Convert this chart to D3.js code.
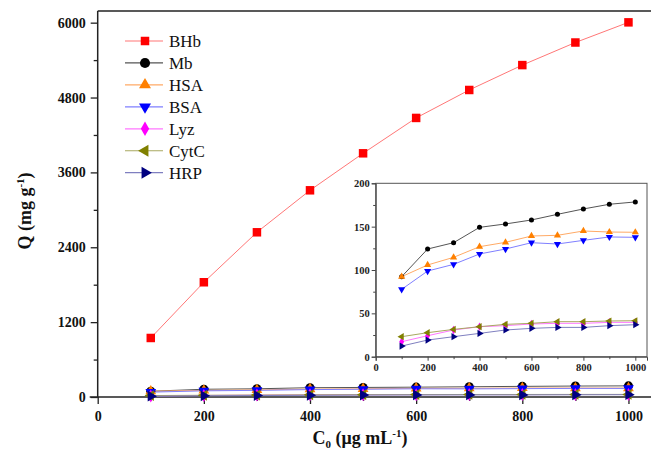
<!DOCTYPE html>
<html><head><meta charset="utf-8">
<script src="https://cdn.jsdelivr.net/npm/d3@7"></script>
<style>body{margin:0;background:#fff}svg{display:block}
svg text{font-family:"Liberation Serif","Times New Roman","DejaVu Serif",serif;}
</style>
</head><body>
<svg id="c" width="651" height="450"></svg>
<script>
const conc = [100,200,300,400,500,600,700,800,900,1000];
const BHb  = [946,1839,2640,3313,3906,4473,4921,5320,5682,6005];
const Mb   = [92.3,124.2,131.5,149.2,153.1,157.7,164.2,170.4,175.8,178.5];
const HSA  = [92.3,105.8,114.6,126.9,131.9,139.2,140.0,145.0,143.8,143.5];
const BSA  = [77.7,98.8,106.5,118.5,124.2,131.5,130.0,134.2,138.1,137.7];
const Lyz  = [17.3,24.2,30.8,34.6,35.8,37.7,38.5,38.5,39.6,39.6];
const CytC = [23.1,27.7,31.5,34.6,37.3,38.5,40.4,40.4,41.2,41.5];
const HRP  = [12.3,19.2,23.1,26.9,30.8,32.7,33.8,33.8,35.8,36.9];
const mainYTicks = [0,1200,2400,3600,4800,6000];
const mainXTicks = [0,200,400,600,800,1000];
const insetYTicks = [0,50,100,150,200];
const insetXTicks = [0,200,400,600,800,1000];

const series = [
  {name:"BHb", vals:BHb, color:"#ff0000", line:"#ff7777", sym:"square"},
  {name:"Mb", vals:Mb, color:"#000000", line:"#555555", sym:"circle"},
  {name:"HSA", vals:HSA, color:"#ff8000", line:"#ffaa66", sym:"up"},
  {name:"BSA", vals:BSA, color:"#0000ff", line:"#7f7fff", sym:"down"},
  {name:"Lyz", vals:Lyz, color:"#ff00ff", line:"#ff77ff", sym:"diamond"},
  {name:"CytC", vals:CytC, color:"#808000", line:"#a8a860", sym:"left"},
  {name:"HRP", vals:HRP, color:"#000080", line:"#7f7fc0", sym:"right"}
];

const svg = d3.select("#c");
const FONT = "'Liberation Serif','Times New Roman','DejaVu Serif',serif";

function symPath(kind, s){
  const m = {square:[d3.symbolSquare,s*s],circle:[d3.symbolCircle,s*s*0.8],
    up:[d3.symbolTriangle,s*s*0.62],down:[d3.symbolTriangle,s*s*0.62],
    left:[d3.symbolTriangle,s*s*0.62],right:[d3.symbolTriangle,s*s*0.62],
    diamond:[d3.symbolDiamond,s*s*0.6]}[kind];
  return d3.symbol().type(m[0]).size(m[1])();
}
const rot = {square:0,circle:0,up:0,down:180,left:-90,right:90,diamond:0};

// ---------- main plot ----------
const x = d3.scaleLinear().domain([0,1050]).range([97.7,655]);
const y = d3.scaleLinear().domain([0,6187]).range([397,11]);

svg.append("line").attr("x1",x(0)).attr("x2",651).attr("y1",y(6187)).attr("y2",y(6187))
  .attr("stroke","#222").attr("stroke-width",1.5);

const yAx = d3.axisLeft(y).tickValues(d3.range(0,6001,600)).tickSize(7)
  .tickFormat(d=> mainYTicks.includes(d)? d : "");
const gy = svg.append("g").attr("transform",`translate(${x(0)},0)`).call(yAx);
gy.attr("font-family",null).attr("font-size",null);
gy.select(".domain").attr("d",`M0,${y(6187)}V${y(0)+0.5}`).attr("stroke","#222").attr("stroke-width",1.5);
gy.selectAll(".tick line").attr("stroke","#222").attr("stroke-width",1.3)
  .attr("x2",d=> mainYTicks.includes(d)? -7 : -4);
gy.selectAll(".tick text").attr("x",-12).style("font-family",FONT).style("font-weight","bold")
  .style("font-size","14px").attr("fill","#111");

const xAx = d3.axisBottom(x).tickValues(d3.range(0,1001,100)).tickSize(7)
  .tickFormat(d=> mainXTicks.includes(d)? d : "");
const gx = svg.append("g").attr("transform",`translate(0,${y(0)})`).call(xAx);
gx.attr("font-family",null).attr("font-size",null);
gx.select(".domain").attr("d",`M${x(0)-8},0H651`).attr("stroke","#222").attr("stroke-width",1.5);
gx.selectAll(".tick line").attr("stroke","#222").attr("stroke-width",1.3)
  .attr("y2",d=> mainXTicks.includes(d)? 7 : 4);
gx.selectAll(".tick text").attr("y",14).style("font-family",FONT).style("font-weight","bold")
  .style("font-size","14px").attr("fill","#111");

const lineMain = d3.line().x((d,i)=>x(conc[i])).y(d=>y(d));
series.forEach(s=>{
  svg.append("path").attr("d",lineMain(s.vals)).attr("fill","none")
    .attr("stroke",s.line).attr("stroke-width",1);
});
series.forEach(s=>{
  const sz = s.sym==="square"?8.5:9;
  svg.append("g").selectAll("path").data(s.vals).join("path")
    .attr("d",symPath(s.sym,sz))
    .attr("transform",(d,i)=>`translate(${x(conc[i])},${y(d)}) rotate(${rot[s.sym]})`)
    .attr("fill",s.color);
});

const yt = svg.append("text").attr("transform","translate(31,211) rotate(-90)")
  .attr("text-anchor","middle").style("font-family",FONT).style("font-weight","bold")
  .style("font-size","18px").attr("fill","#111");
yt.append("tspan").text("Q (mg g");
yt.append("tspan").style("font-size","11px").attr("dy",-7).text("-1");
yt.append("tspan").attr("dy",7).text(")");

const xt = svg.append("text").attr("x",360).attr("y",444)
  .attr("text-anchor","middle").style("font-family",FONT).style("font-weight","bold")
  .style("font-size","18px").attr("fill","#111");
xt.append("tspan").text("C");
xt.append("tspan").style("font-size","11px").attr("dy",4).text("0");
xt.append("tspan").attr("dy",-4).text(" (\u03bcg mL");
xt.append("tspan").style("font-size","11px").attr("dy",-7).text("-1");
xt.append("tspan").attr("dy",7).text(")");

const lg = svg.append("g");
series.forEach((s,i)=>{
  const ly = 41 + i*21.95;
  lg.append("line").attr("x1",125).attr("x2",163).attr("y1",ly).attr("y2",ly)
    .attr("stroke",s.line).attr("stroke-width",1.2);
  lg.append("path").attr("d",symPath(s.sym, s.sym==="square"?8.5:10))
    .attr("transform",`translate(145,${ly}) rotate(${rot[s.sym]})`).attr("fill",s.color);
  lg.append("text").attr("x",169).attr("y",ly+6).style("font-family",FONT)
    .style("font-size","17px").attr("fill","#111").text(s.name);
});

// ---------- inset ----------
const xi = d3.scaleLinear().domain([0,1045]).range([375.7,647]);
const yi = d3.scaleLinear().domain([0,200]).range([356.7,183.3]);
svg.append("rect").attr("x",xi(0)).attr("y",yi(200)).attr("width",xi(1045)-xi(0))
  .attr("height",yi(0)-yi(200)).attr("fill","#fff").attr("stroke","#555").attr("stroke-width",1);

const yiAx = d3.axisLeft(yi).tickValues(d3.range(0,201,25)).tickSize(4)
  .tickFormat(d=> insetYTicks.includes(d)? d : "");
const gyi = svg.append("g").attr("transform",`translate(${xi(0)},0)`).call(yiAx);
gyi.attr("font-family",null).attr("font-size",null);
gyi.select(".domain").attr("stroke","#444");
gyi.selectAll(".tick line").attr("stroke","#444").attr("x2",d=> insetYTicks.includes(d)? -4 : -2.5);
gyi.selectAll(".tick text").attr("x",-6).style("font-family",FONT).style("font-weight","bold")
  .style("font-size","10.5px").attr("fill","#222");

const xiAx = d3.axisBottom(xi).tickValues(d3.range(0,1001,100)).tickSize(4)
  .tickFormat(d=> insetXTicks.includes(d)? d : "");
const gxi = svg.append("g").attr("transform",`translate(0,${yi(0)})`).call(xiAx);
gxi.attr("font-family",null).attr("font-size",null);
gxi.select(".domain").attr("stroke","#444");
gxi.selectAll(".tick line").attr("stroke","#444").attr("y2",d=> insetXTicks.includes(d)? 4 : 2.5);
gxi.selectAll(".tick text").attr("y",7).style("font-family",FONT).style("font-weight","bold")
  .style("font-size","10.5px").attr("fill","#222");

const lineIn = d3.line().x((d,i)=>xi(conc[i])).y(d=>yi(d));
const insetSeries = series.slice(1);
insetSeries.forEach(s=>{
  svg.append("path").attr("d",lineIn(s.vals)).attr("fill","none")
    .attr("stroke",s.line).attr("stroke-width",1);
});
insetSeries.forEach(s=>{
  svg.append("g").selectAll("path").data(s.vals).join("path")
    .attr("d",symPath(s.sym, s.sym==="circle"?5:6))
    .attr("transform",(d,i)=>`translate(${xi(conc[i])},${yi(d)}) rotate(${rot[s.sym]})`)
    .attr("fill",s.color);
});
</script>
</body></html>
